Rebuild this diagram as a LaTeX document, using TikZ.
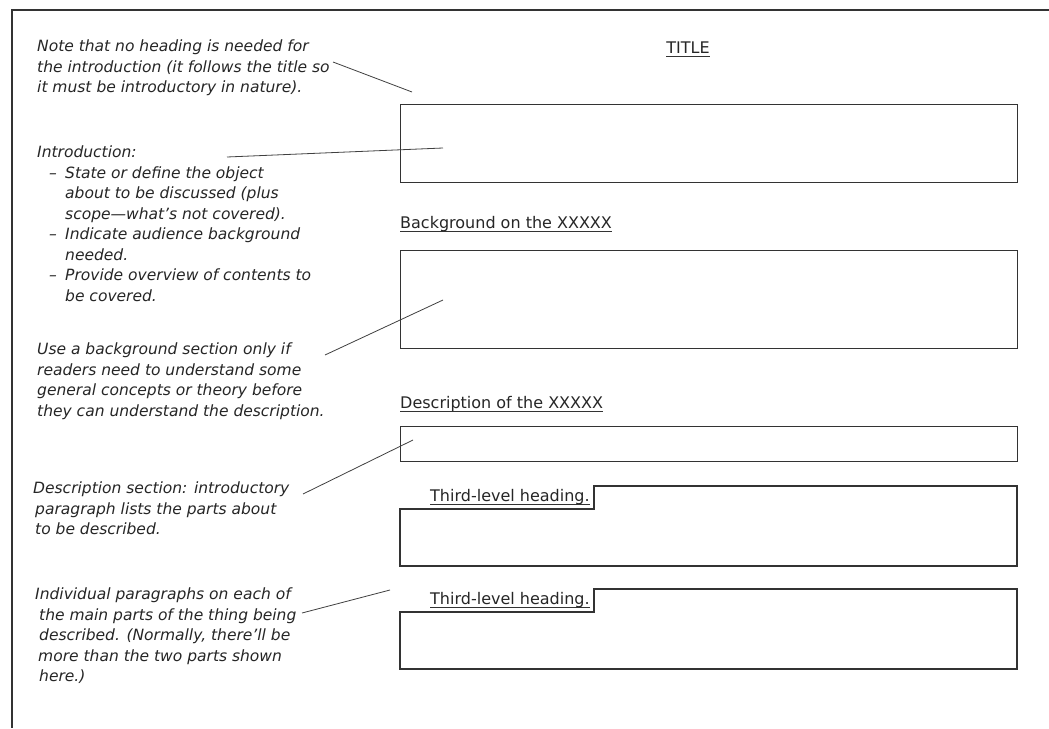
\documentclass[tikz,border=0pt]{standalone}
\usepackage{fontspec}
\setmainfont{DejaVu Sans}
\begin{document}
\begin{tikzpicture}[x=1pt,y=-1pt,
  note/.style={anchor=north west, inner sep=0pt, align=left, font=\fontsize{15.5}{20.5}\selectfont\itshape, text=black!85},
  head/.style={anchor=base west, inner sep=0pt, font=\fontsize{16}{19}\selectfont, text=black!85},
  frameline/.style={draw=black!80, line width=1.6pt},
  boxline/.style={draw=black!80, line width=1.3pt},
  lead/.style={draw=black!75, line width=0.8pt},
  uline/.style={draw=black!80, line width=0.9pt}]
\useasboundingbox[fill=white] (0,0) rectangle (1049,728);

% frame (only top and left edges visible)
\coordinate (fa) at (11,10);
\coordinate (fb) at (1049,10);
\coordinate (fc) at (12,728);
\draw[frameline] (fb) -- (fa |- fb) -- (fa) ;
\draw[frameline] (12,10) -- (fc);

% headings
\node[head, anchor=base] (title) at (688,53) {TITLE};
\draw[uline] ([yshift=-3pt]title.base west) -- ([yshift=-3pt]title.base east);
\node[head] (bg) at (400,228) {Background on the XXXXX};
\draw[uline] ([yshift=-3pt]bg.base west) -- ([yshift=-3pt]bg.base east);
\node[head] (desc) at (400,408) {Description of the XXXXX};
\draw[uline] ([yshift=-3pt]desc.base west) -- ([yshift=-3pt]desc.base east);
\node[head] (th1) at (430,501) {Third-level heading.};
\draw[uline] ([yshift=-3pt]th1.base west) -- ([yshift=-3pt]th1.base east);
\node[head] (th2) at (430,604) {Third-level heading.};
\draw[uline] ([yshift=-3pt]th2.base west) -- ([yshift=-3pt]th2.base east);

% boxes
\node[boxline, anchor=north west, inner sep=0pt, minimum width=617pt, minimum height=78pt] (b1) at (400,104) {};
\node[boxline, anchor=north west, inner sep=0pt, minimum width=617pt, minimum height=98pt] (b2) at (400,250) {};
\node[boxline, anchor=north west, inner sep=0pt, minimum width=617pt, minimum height=35pt] (b3) at (400,426) {};
\draw[boxline] (400,509) -- (594,509) -- (594,486) -- (1017,486) -- (1017,566) -- (400,566) -- cycle;
\draw[boxline] (400,612) -- (594,612) -- (594,589) -- (1017,589) -- (1017,669) -- (400,669) -- cycle;

% notes
\node[note] (n1) at (37,40) {Note that no heading is needed for\\
the introduction (it follows the title so\\
it must be introductory in nature).};
\node[note] (n2) at (37,146) {Introduction:\\
\hspace*{12pt}\makebox[16pt][l]{--}State or define the object\\
\hspace*{28pt}about to be discussed (plus\\
\hspace*{28pt}scope---what's not covered).\\
\hspace*{12pt}\makebox[16pt][l]{--}Indicate audience background\\
\hspace*{28pt}needed.\\
\hspace*{12pt}\makebox[16pt][l]{--}Provide overview of contents to\\
\hspace*{28pt}be covered.};
\node[note] (n3) at (37,343) {Use a background section only if\\
readers need to understand some\\
general concepts or theory before\\
they can understand the description.};
\node[note] (n4) at (33,482) {Description section: introductory\\
\hspace*{2pt}paragraph lists the parts about\\
\hspace*{2pt}to be described.};
\node[note] (n5) at (35,588) {Individual paragraphs on each of\\
\hspace*{4pt}the main parts of the thing being\\
\hspace*{4pt}described. (Normally, there'll be\\
\hspace*{3pt}more than the two parts shown\\
\hspace*{4pt}here.)};

% leader lines
\coordinate (s1) at (333,62);   \coordinate (e1) at (412,92);
\coordinate (s2) at (227,157);  \coordinate (e2) at (443,148);
\coordinate (s3) at (325,355);  \coordinate (e3) at (443,300);
\coordinate (s4) at (303,494);  \coordinate (e4) at (413,440);
\coordinate (s5) at (302,613);  \coordinate (e5) at (390,590);
\draw[lead] (s1) -- (e1);
\draw[lead] (s2) -- (e2);
\draw[lead] (s3) -- (e3);
\draw[lead] (s4) -- (e4);
\draw[lead] (s5) -- (e5);
\end{tikzpicture}
\end{document}
